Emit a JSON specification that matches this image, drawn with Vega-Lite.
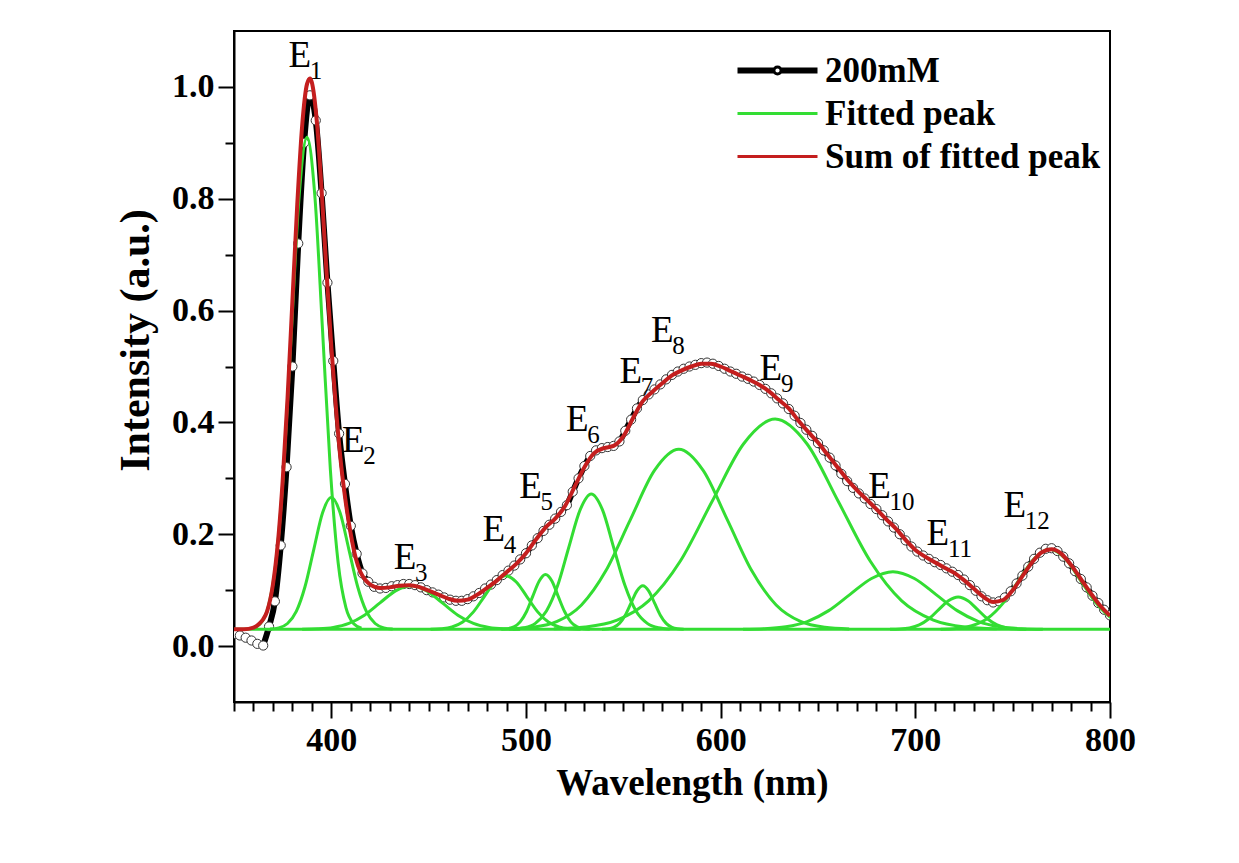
{
  "$schema": "https://vega.github.io/schema/vega-lite/v6.json",
  "autosize": {"type": "none"},
  "padding": {"left": 234, "top": 31, "right": 129, "bottom": 161},
  "width": 876,
  "height": 671,
  "background": "white",
  "config": {
    "view": {"stroke": "black", "strokeWidth": 2},
    "axis": {"grid": false}
  },
  "datasets": {
    "spectrum": [
      {"w":350,"v":0.022},{"w":353,"v":0.019},{"w":356,"v":0.015},{"w":359,"v":0.01},{"w":362,"v":0.004},{"w":365,"v":0.001},
      {"w":368,"v":0.035},{"w":371,"v":0.08},{"w":374,"v":0.18},{"w":377,"v":0.32},{"w":380,"v":0.5},{"w":383,"v":0.72},
      {"w":386,"v":0.9},{"w":389,"v":0.985},{"w":392,"v":0.94},{"w":395,"v":0.81},{"w":398,"v":0.65},{"w":401,"v":0.51},
      {"w":404,"v":0.38},{"w":407,"v":0.29},{"w":410,"v":0.215},{"w":413,"v":0.165},{"w":416,"v":0.13},{"w":419,"v":0.115},
      {"w":422,"v":0.106},{"w":425,"v":0.103},{"w":428,"v":0.104},{"w":431,"v":0.107},{"w":434,"v":0.109},{"w":437,"v":0.111},
      {"w":440,"v":0.111},{"w":443,"v":0.109},{"w":446,"v":0.105},{"w":449,"v":0.1},{"w":452,"v":0.096},{"w":455,"v":0.092},
      {"w":458,"v":0.087},{"w":461,"v":0.083},{"w":464,"v":0.081},{"w":467,"v":0.081},{"w":470,"v":0.084},{"w":473,"v":0.089},
      {"w":476,"v":0.095},{"w":479,"v":0.103},{"w":482,"v":0.11},{"w":485,"v":0.118},{"w":488,"v":0.127},{"w":491,"v":0.135},
      {"w":494,"v":0.144},{"w":497,"v":0.155},{"w":500,"v":0.166},{"w":503,"v":0.18},{"w":506,"v":0.193},{"w":509,"v":0.206},
      {"w":512,"v":0.217},{"w":515,"v":0.228},{"w":518,"v":0.24},{"w":521,"v":0.252},{"w":524,"v":0.276},{"w":527,"v":0.3},
      {"w":530,"v":0.322},{"w":533,"v":0.34},{"w":536,"v":0.35},{"w":539,"v":0.354},{"w":542,"v":0.356},{"w":545,"v":0.358},
      {"w":548,"v":0.366},{"w":551,"v":0.385},{"w":554,"v":0.405},{"w":557,"v":0.425},{"w":560,"v":0.44},{"w":563,"v":0.45},
      {"w":566,"v":0.459},{"w":569,"v":0.468},{"w":572,"v":0.477},{"w":575,"v":0.485},{"w":578,"v":0.491},{"w":581,"v":0.496},
      {"w":584,"v":0.5},{"w":587,"v":0.503},{"w":590,"v":0.506},{"w":593,"v":0.507},{"w":596,"v":0.505},{"w":599,"v":0.501},
      {"w":602,"v":0.496},{"w":605,"v":0.491},{"w":608,"v":0.487},{"w":611,"v":0.482},{"w":614,"v":0.478},{"w":617,"v":0.473},
      {"w":620,"v":0.467},{"w":623,"v":0.46},{"w":626,"v":0.452},{"w":629,"v":0.443},{"w":632,"v":0.434},{"w":635,"v":0.424},
      {"w":638,"v":0.412},{"w":641,"v":0.399},{"w":644,"v":0.387},{"w":647,"v":0.376},{"w":650,"v":0.363},{"w":653,"v":0.35},
      {"w":656,"v":0.337},{"w":659,"v":0.323},{"w":662,"v":0.308},{"w":665,"v":0.295},{"w":668,"v":0.283},{"w":671,"v":0.273},
      {"w":674,"v":0.264},{"w":677,"v":0.254},{"w":680,"v":0.245},{"w":683,"v":0.234},{"w":686,"v":0.223},{"w":689,"v":0.212},
      {"w":692,"v":0.2},{"w":695,"v":0.189},{"w":698,"v":0.178},{"w":701,"v":0.169},{"w":704,"v":0.162},{"w":707,"v":0.156},
      {"w":710,"v":0.15},{"w":713,"v":0.145},{"w":716,"v":0.139},{"w":719,"v":0.133},{"w":722,"v":0.127},{"w":725,"v":0.119},
      {"w":728,"v":0.109},{"w":731,"v":0.099},{"w":734,"v":0.089},{"w":737,"v":0.082},{"w":740,"v":0.078},{"w":743,"v":0.08},
      {"w":746,"v":0.087},{"w":749,"v":0.098},{"w":752,"v":0.112},{"w":755,"v":0.126},{"w":758,"v":0.142},{"w":761,"v":0.156},
      {"w":764,"v":0.167},{"w":767,"v":0.174},{"w":770,"v":0.175},{"w":773,"v":0.17},{"w":776,"v":0.16},{"w":779,"v":0.148},
      {"w":782,"v":0.134},{"w":785,"v":0.12},{"w":788,"v":0.105},{"w":791,"v":0.09},{"w":794,"v":0.077},{"w":797,"v":0.065},
      {"w":800,"v":0.055}
    ],
    "sum": [
      {"w":350,"v":0.03},{"w":355,"v":0.03},{"w":360,"v":0.033},{"w":363,"v":0.04},{"w":365,"v":0.048},{"w":367,"v":0.062},
      {"w":370,"v":0.11},{"w":372.5,"v":0.183},{"w":375,"v":0.295},{"w":377.5,"v":0.443},{"w":380,"v":0.617},{"w":382.5,"v":0.79},
      {"w":385,"v":0.93},{"w":387.5,"v":1.005},{"w":389,"v":1.015},{"w":390,"v":1.008},{"w":392.5,"v":0.94},{"w":395,"v":0.815},
      {"w":397.5,"v":0.67},{"w":400,"v":0.535},{"w":402.5,"v":0.42},{"w":405,"v":0.325},{"w":407.5,"v":0.255},{"w":410,"v":0.2},
      {"w":412.5,"v":0.158},{"w":415,"v":0.132},{"w":417.5,"v":0.118},{"w":420,"v":0.11},{"w":425,"v":0.104},{"w":430,"v":0.105},
      {"w":435,"v":0.108},{"w":440,"v":0.109},{"w":445,"v":0.106},{"w":450,"v":0.099},{"w":455,"v":0.092},{"w":460,"v":0.085},
      {"w":465,"v":0.081},{"w":470,"v":0.083},{"w":475,"v":0.092},{"w":480,"v":0.104},{"w":485,"v":0.117},{"w":490,"v":0.132},
      {"w":495,"v":0.147},{"w":500,"v":0.166},{"w":505,"v":0.19},{"w":510,"v":0.212},{"w":515,"v":0.228},{"w":520,"v":0.25},
      {"w":525,"v":0.285},{"w":530,"v":0.32},{"w":535,"v":0.345},{"w":540,"v":0.354},{"w":545,"v":0.358},{"w":550,"v":0.375},
      {"w":555,"v":0.408},{"w":560,"v":0.438},{"w":565,"v":0.455},{"w":570,"v":0.47},{"w":575,"v":0.484},{"w":580,"v":0.493},
      {"w":585,"v":0.5},{"w":590,"v":0.505},{"w":595,"v":0.505},{"w":600,"v":0.5},{"w":605,"v":0.492},{"w":610,"v":0.484},
      {"w":615,"v":0.476},{"w":620,"v":0.467},{"w":625,"v":0.455},{"w":630,"v":0.44},{"w":635,"v":0.425},{"w":640,"v":0.403},
      {"w":645,"v":0.383},{"w":650,"v":0.364},{"w":655,"v":0.342},{"w":660,"v":0.32},{"w":665,"v":0.298},{"w":670,"v":0.279},
      {"w":675,"v":0.262},{"w":680,"v":0.245},{"w":685,"v":0.227},{"w":690,"v":0.21},{"w":695,"v":0.19},{"w":700,"v":0.172},
      {"w":705,"v":0.16},{"w":710,"v":0.15},{"w":715,"v":0.14},{"w":720,"v":0.131},{"w":725,"v":0.118},{"w":730,"v":0.103},
      {"w":735,"v":0.088},{"w":740,"v":0.079},{"w":745,"v":0.082},{"w":750,"v":0.1},{"w":755,"v":0.125},{"w":760,"v":0.15},
      {"w":765,"v":0.168},{"w":770,"v":0.173},{"w":775,"v":0.165},{"w":780,"v":0.145},{"w":785,"v":0.12},{"w":790,"v":0.095},
      {"w":795,"v":0.072},{"w":800,"v":0.054}
    ],
    "peaks": [
      {"p":"base","w":350,"v":0.03},{"p":"base","w":800,"v":0.03},
      {"p":"E1","w":359.5,"v":0.0319},{"p":"E1","w":363.5,"v":0.0398},{"p":"E1","w":367.5,"v":0.0686},{"p":"E1","w":371.5,"v":0.1491},{"p":"E1","w":375.5,"v":0.3157},{"p":"E1","w":379.5,"v":0.5637},{"p":"E1","w":383.5,"v":0.8066},{"p":"E1","w":387.5,"v":0.91},{"p":"E1","w":391.5,"v":0.8066},{"p":"E1","w":395.5,"v":0.5637},{"p":"E1","w":399.5,"v":0.3157},{"p":"E1","w":403.5,"v":0.1491},{"p":"E1","w":407.5,"v":0.0686},{"p":"E1","w":411.5,"v":0.0398},{"p":"E1","w":415.5,"v":0.0319},
      {"p":"E2","w":368.5,"v":0.0305},{"p":"E2","w":373,"v":0.0326},{"p":"E2","w":377.5,"v":0.0404},{"p":"E2","w":382,"v":0.0619},{"p":"E2","w":386.5,"v":0.1066},{"p":"E2","w":391,"v":0.1731},{"p":"E2","w":395.5,"v":0.2383},{"p":"E2","w":400,"v":0.266},{"p":"E2","w":404.5,"v":0.2383},{"p":"E2","w":409,"v":0.1731},{"p":"E2","w":413.5,"v":0.1066},{"p":"E2","w":418,"v":0.0619},{"p":"E2","w":422.5,"v":0.0404},{"p":"E2","w":427,"v":0.0326},{"p":"E2","w":431.5,"v":0.0305},
      {"p":"E3","w":385,"v":0.0302},{"p":"E3","w":393,"v":0.0309},{"p":"E3","w":401,"v":0.0334},{"p":"E3","w":409,"v":0.0406},{"p":"E3","w":417,"v":0.0553},{"p":"E3","w":425,"v":0.0773},{"p":"E3","w":433,"v":0.0988},{"p":"E3","w":441,"v":0.108},{"p":"E3","w":449,"v":0.0988},{"p":"E3","w":457,"v":0.0773},{"p":"E3","w":465,"v":0.0553},{"p":"E3","w":473,"v":0.0406},{"p":"E3","w":481,"v":0.0334},{"p":"E3","w":489,"v":0.0309},{"p":"E3","w":497,"v":0.0302},
      {"p":"E4","w":451,"v":0.0302},{"p":"E4","w":456.5,"v":0.0311},{"p":"E4","w":462,"v":0.0342},{"p":"E4","w":467.5,"v":0.043},{"p":"E4","w":473,"v":0.0612},{"p":"E4","w":478.5,"v":0.0882},{"p":"E4","w":484,"v":0.1147},{"p":"E4","w":489.5,"v":0.126},{"p":"E4","w":495,"v":0.1147},{"p":"E4","w":500.5,"v":0.0882},{"p":"E4","w":506,"v":0.0612},{"p":"E4","w":511.5,"v":0.043},{"p":"E4","w":517,"v":0.0342},{"p":"E4","w":522.5,"v":0.0311},{"p":"E4","w":528,"v":0.0302},
      {"p":"E5","w":487.3,"v":0.0302},{"p":"E5","w":490.5,"v":0.0311},{"p":"E5","w":493.8,"v":0.0343},{"p":"E5","w":497,"v":0.0433},{"p":"E5","w":500.3,"v":0.0618},{"p":"E5","w":503.5,"v":0.0894},{"p":"E5","w":506.8,"v":0.1165},{"p":"E5","w":510,"v":0.128},{"p":"E5","w":513.3,"v":0.1165},{"p":"E5","w":516.5,"v":0.0894},{"p":"E5","w":519.8,"v":0.0618},{"p":"E5","w":523,"v":0.0433},{"p":"E5","w":526.3,"v":0.0343},{"p":"E5","w":529.5,"v":0.0311},{"p":"E5","w":532.8,"v":0.0302},
      {"p":"E6","w":493.3,"v":0.0305},{"p":"E6","w":499,"v":0.0327},{"p":"E6","w":504.8,"v":0.0406},{"p":"E6","w":510.5,"v":0.0627},{"p":"E6","w":516.3,"v":0.1086},{"p":"E6","w":522,"v":0.1768},{"p":"E6","w":527.8,"v":0.2436},{"p":"E6","w":533.5,"v":0.272},{"p":"E6","w":539.3,"v":0.2436},{"p":"E6","w":545,"v":0.1768},{"p":"E6","w":550.8,"v":0.1086},{"p":"E6","w":556.5,"v":0.0627},{"p":"E6","w":562.3,"v":0.0406},{"p":"E6","w":568,"v":0.0327},{"p":"E6","w":573.8,"v":0.0305},
      {"p":"E7","w":539,"v":0.0302},{"p":"E7","w":542,"v":0.0309},{"p":"E7","w":545,"v":0.0334},{"p":"E7","w":548,"v":0.0406},{"p":"E7","w":551,"v":0.0553},{"p":"E7","w":554,"v":0.0773},{"p":"E7","w":557,"v":0.0988},{"p":"E7","w":560,"v":0.108},{"p":"E7","w":563,"v":0.0988},{"p":"E7","w":566,"v":0.0773},{"p":"E7","w":569,"v":0.0553},{"p":"E7","w":572,"v":0.0406},{"p":"E7","w":575,"v":0.0334},{"p":"E7","w":578,"v":0.0309},{"p":"E7","w":581,"v":0.0302},
      {"p":"E8","w":491,"v":0.0307},{"p":"E8","w":503.5,"v":0.0336},{"p":"E8","w":516,"v":0.0441},{"p":"E8","w":528.5,"v":0.0736},{"p":"E8","w":541,"v":0.1346},{"p":"E8","w":553.5,"v":0.2253},{"p":"E8","w":566,"v":0.3142},{"p":"E8","w":578.5,"v":0.352},{"p":"E8","w":591,"v":0.3142},{"p":"E8","w":603.5,"v":0.2253},{"p":"E8","w":616,"v":0.1346},{"p":"E8","w":628.5,"v":0.0736},{"p":"E8","w":641,"v":0.0441},{"p":"E8","w":653.5,"v":0.0336},{"p":"E8","w":666,"v":0.0307},
      {"p":"E9","w":514.3,"v":0.0308},{"p":"E9","w":530.5,"v":0.0342},{"p":"E9","w":546.8,"v":0.0465},{"p":"E9","w":563,"v":0.0809},{"p":"E9","w":579.3,"v":0.1521},{"p":"E9","w":595.5,"v":0.258},{"p":"E9","w":611.8,"v":0.3618},{"p":"E9","w":628,"v":0.406},{"p":"E9","w":644.3,"v":0.3618},{"p":"E9","w":660.5,"v":0.258},{"p":"E9","w":676.8,"v":0.1521},{"p":"E9","w":693,"v":0.0809},{"p":"E9","w":709.3,"v":0.0465},{"p":"E9","w":725.5,"v":0.0342},{"p":"E9","w":741.8,"v":0.0308},
      {"p":"E10","w":611.5,"v":0.0302},{"p":"E10","w":622.5,"v":0.0311},{"p":"E10","w":633.5,"v":0.0345},{"p":"E10","w":644.5,"v":0.0439},{"p":"E10","w":655.5,"v":0.0634},{"p":"E10","w":666.5,"v":0.0925},{"p":"E10","w":677.5,"v":0.1209},{"p":"E10","w":688.5,"v":0.133},{"p":"E10","w":699.5,"v":0.1209},{"p":"E10","w":710.5,"v":0.0925},{"p":"E10","w":721.5,"v":0.0634},{"p":"E10","w":732.5,"v":0.0439},{"p":"E10","w":743.5,"v":0.0345},{"p":"E10","w":754.5,"v":0.0311},{"p":"E10","w":765.5,"v":0.0302},
      {"p":"E11","w":687,"v":0.0301},{"p":"E11","w":692,"v":0.0306},{"p":"E11","w":697,"v":0.0325},{"p":"E11","w":702,"v":0.0378},{"p":"E11","w":707,"v":0.0488},{"p":"E11","w":712,"v":0.0652},{"p":"E11","w":717,"v":0.0812},{"p":"E11","w":722,"v":0.088},{"p":"E11","w":727,"v":0.0812},{"p":"E11","w":732,"v":0.0652},{"p":"E11","w":737,"v":0.0488},{"p":"E11","w":742,"v":0.0378},{"p":"E11","w":747,"v":0.0325},{"p":"E11","w":752,"v":0.0306},{"p":"E11","w":757,"v":0.0301},
      {"p":"E12","w":713,"v":0.0303},{"p":"E12","w":721,"v":0.0316},{"p":"E12","w":729,"v":0.0363},{"p":"E12","w":737,"v":0.0493},{"p":"E12","w":745,"v":0.0764},{"p":"E12","w":753,"v":0.1167},{"p":"E12","w":761,"v":0.1562},{"p":"E12","w":769,"v":0.173},{"p":"E12","w":777,"v":0.1562},{"p":"E12","w":785,"v":0.1167},{"p":"E12","w":793,"v":0.0764},{"p":"E12","w":801,"v":0.0493},{"p":"E12","w":809,"v":0.0363}
    ],
    "labels": [
      {"t":"E","s":"1","w":383.8,"v":1.055},
      {"t":"E","s":"2","w":411.3,"v":0.367},
      {"t":"E","s":"3","w":437.9,"v":0.157},
      {"t":"E","s":"4","w":483.4,"v":0.208},
      {"t":"E","s":"5","w":502.3,"v":0.284},
      {"t":"E","s":"6","w":526.3,"v":0.405},
      {"t":"E","s":"7","w":553.8,"v":0.49},
      {"t":"E","s":"8","w":570,"v":0.564},
      {"t":"E","s":"9","w":625.8,"v":0.496},
      {"t":"E","s":"10","w":681.6,"v":0.284},
      {"t":"E","s":"11","w":711.6,"v":0.2},
      {"t":"E","s":"12","w":751.1,"v":0.251}
    ]
  },
  "encoding": {
    "x": {
      "field": "w", "type": "quantitative",
      "scale": {"domain": [350, 800], "nice": false, "zero": false},
      "axis": {
        "title": "Wavelength (nm)",
        "titleX": 458,
        "values": [350,360,370,380,390,400,410,420,430,440,450,460,470,480,490,500,510,520,530,540,550,560,570,580,590,600,610,620,630,640,650,660,670,680,690,700,710,720,730,740,750,760,770,780,790,800],
        "labelExpr": "datum.value % 100 === 0 ? datum.label : ''",
        "labelOverlap": false,
        "labelFlush": false,
        "tickSize": {"condition": {"test": "datum.value % 100 === 0", "value": 16}, "value": 9},
        "tickWidth": 2,
        "tickColor": "black",
        "domainColor": "black",
        "domainWidth": 2,
        "labelFont": "Liberation Serif",
        "labelFontWeight": "bold",
        "labelFontSize": 34,
        "labelColor": "black",
        "labelPadding": 5,
        "titleFont": "Liberation Serif",
        "titleFontWeight": "bold",
        "titleFontSize": 37,
        "titleColor": "black",
        "titlePadding": 8
      }
    },
    "y": {
      "field": "v", "type": "quantitative",
      "scale": {"domain": [-0.1, 1.1], "nice": false, "zero": false},
      "axis": {
        "title": "Intensity (a.u.)",
        "titleY": 309,
        "values": [0, 0.1, 0.2, 0.3, 0.4, 0.5, 0.6, 0.7, 0.8, 0.9, 1.0],
        "labelExpr": "round(datum.value * 10) % 2 === 0 ? format(datum.value, '.1f') : ''",
        "labelOverlap": false,
        "labelFlush": false,
        "tickSize": {"condition": {"test": "round(datum.value * 10) % 2 === 0", "value": 16}, "value": 9},
        "tickWidth": 2,
        "tickColor": "black",
        "domainColor": "black",
        "domainWidth": 2,
        "labelFont": "Liberation Serif",
        "labelFontWeight": "bold",
        "labelFontSize": 34,
        "labelColor": "black",
        "labelPadding": 4,
        "titleFont": "Liberation Serif",
        "titleFontWeight": "bold",
        "titleFontSize": 42,
        "titleColor": "black",
        "titlePadding": 14
      }
    }
  },
  "layer": [
    {
      "data": {"name": "spectrum"},
      "transform": [{"filter": "datum.w >= 365"}],
      "mark": {"type": "line", "strokeWidth": 6, "interpolate": "monotone", "clip": true},
      "encoding": {
        "color": {
          "datum": "200mM", "type": "nominal",
          "scale": {"domain": ["200mM", "Fitted peak", "Sum of fitted peak"], "range": ["#000000", "#33dd33", "#c41e1e"]},
          "legend": {
            "title": null,
            "orient": "none",
            "legendX": 502,
            "legendY": 18,
            "padding": 0,
            "symbolType": "stroke",
            "symbolSize": 6400,
            "symbolStrokeWidth": 3,
            "clipHeight": 43,
            "rowPadding": 0,
            "labelOffset": 6,
            "labelFont": "Liberation Serif",
            "labelFontWeight": "bold",
            "labelFontSize": 35,
            "labelColor": "black",
            "labelLimit": 0,
            "encode": {
              "symbols": {
                "update": {
                  "shape": {"signal": "datum.value === '200mM' ? 'M-1,-0.04L-0.09,-0.04M-1,0L-0.09,0M-1,0.04L-0.09,0.04M0.09,-0.04L1,-0.04M0.09,0L1,0M0.09,0.04L1,0.04M0.09,0A0.09,0.09,0,1,1,-0.09,0A0.09,0.09,0,1,1,0.09,0' : 'stroke'"},
                  "fill": {"signal": "datum.value === '200mM' ? 'white' : 'transparent'"}
                }
              }
            }
          }
        }
      }
    },
    {
      "data": {"name": "spectrum"},
      "mark": {"type": "point", "shape": "circle", "filled": true, "fill": "white", "stroke": "#333333", "strokeWidth": 1, "size": 85, "opacity": 1, "clip": true},
      "encoding": {}
    },
    {
      "data": {"name": "peaks"},
      "mark": {"type": "line", "strokeWidth": 3, "interpolate": "monotone", "clip": true},
      "encoding": {
        "detail": {"field": "p", "type": "nominal"},
        "color": {"datum": "Fitted peak", "type": "nominal"}
      }
    },
    {
      "data": {"name": "sum"},
      "mark": {"type": "line", "strokeWidth": 4, "interpolate": "monotone", "clip": true},
      "encoding": {
        "color": {"datum": "Sum of fitted peak", "type": "nominal"}
      }
    },
    {
      "data": {"name": "labels"},
      "mark": {"type": "text", "font": "Liberation Serif", "fontSize": 37, "align": "center", "baseline": "middle", "color": "black"},
      "encoding": {"text": {"field": "t"}}
    },
    {
      "data": {"name": "labels"},
      "mark": {"type": "text", "font": "Liberation Serif", "fontSize": 25, "align": "left", "baseline": "middle", "dx": 10, "dy": 15, "color": "black"},
      "encoding": {"text": {"field": "s"}}
    }
  ]
}
